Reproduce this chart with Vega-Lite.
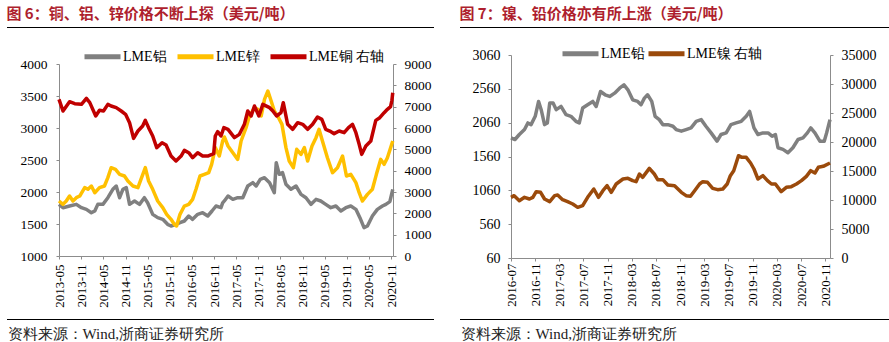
{
  "$schema": "https://vega.github.io/schema/vega-lite/v6.json",
  "background": "white",
  "padding": {"left": 6, "top": 6, "right": 0, "bottom": 0},
  "autosize": {"type": "pad"},
  "columns": 2,
  "align": "none",
  "spacing": {"row": 0, "column": 24},
  "resolve": {"scale": {"color": "independent", "x": "independent", "y": "independent"}, "legend": {"color": "independent"}},
  "datasets": {
    "rules": [{"x1": 0, "x2": 1, "pos": 0}, {"x1": 0, "x2": 1, "pos": 1}],
    "alzn": [
      {"date": "2013-05-01", "series": "LME铝", "price": 1807},
      {"date": "2013-06-03", "series": "LME铝", "price": 1755},
      {"date": "2013-07-27", "series": "LME铝", "price": 1781},
      {"date": "2013-09-21", "series": "LME铝", "price": 1807},
      {"date": "2013-11-02", "series": "LME铝", "price": 1755},
      {"date": "2013-12-13", "series": "LME铝", "price": 1729},
      {"date": "2014-01-23", "series": "LME铝", "price": 1677},
      {"date": "2014-02-20", "series": "LME铝", "price": 1703},
      {"date": "2014-03-17", "series": "LME铝", "price": 1807},
      {"date": "2014-04-28", "series": "LME铝", "price": 1807},
      {"date": "2014-06-08", "series": "LME铝", "price": 1911},
      {"date": "2014-07-19", "series": "LME铝", "price": 2042},
      {"date": "2014-08-16", "series": "LME铝", "price": 2094},
      {"date": "2014-09-13", "series": "LME铝", "price": 1911},
      {"date": "2014-10-10", "series": "LME铝", "price": 2042},
      {"date": "2014-11-07", "series": "LME铝", "price": 2068},
      {"date": "2014-12-04", "series": "LME铝", "price": 1807},
      {"date": "2015-01-14", "series": "LME铝", "price": 1859},
      {"date": "2015-02-24", "series": "LME铝", "price": 1807},
      {"date": "2015-04-05", "series": "LME铝", "price": 1911},
      {"date": "2015-05-02", "series": "LME铝", "price": 1833},
      {"date": "2015-06-13", "series": "LME铝", "price": 1651},
      {"date": "2015-07-24", "series": "LME铝", "price": 1599},
      {"date": "2015-09-04", "series": "LME铝", "price": 1573},
      {"date": "2015-10-14", "series": "LME铝", "price": 1495},
      {"date": "2015-11-11", "series": "LME铝", "price": 1469},
      {"date": "2015-12-22", "series": "LME铝", "price": 1495},
      {"date": "2016-01-24", "series": "LME铝", "price": 1521},
      {"date": "2016-02-29", "series": "LME铝", "price": 1547},
      {"date": "2016-04-05", "series": "LME铝", "price": 1625},
      {"date": "2016-05-07", "series": "LME铝", "price": 1573},
      {"date": "2016-06-18", "series": "LME铝", "price": 1651},
      {"date": "2016-07-29", "series": "LME铝", "price": 1677},
      {"date": "2016-09-09", "series": "LME铝", "price": 1625},
      {"date": "2016-10-14", "series": "LME铝", "price": 1703},
      {"date": "2016-11-16", "series": "LME铝", "price": 1781},
      {"date": "2016-12-27", "series": "LME铝", "price": 1755},
      {"date": "2017-01-10", "series": "LME铝", "price": 1830},
      {"date": "2017-01-24", "series": "LME铝", "price": 1860},
      {"date": "2017-02-23", "series": "LME铝", "price": 1937},
      {"date": "2017-04-04", "series": "LME铝", "price": 1885},
      {"date": "2017-05-14", "series": "LME铝", "price": 1911},
      {"date": "2017-06-25", "series": "LME铝", "price": 1911},
      {"date": "2017-08-05", "series": "LME铝", "price": 2094},
      {"date": "2017-09-16", "series": "LME铝", "price": 2146},
      {"date": "2017-10-13", "series": "LME铝", "price": 2094},
      {"date": "2017-11-16", "series": "LME铝", "price": 2198},
      {"date": "2017-12-21", "series": "LME铝", "price": 2224},
      {"date": "2018-02-01", "series": "LME铝", "price": 2146},
      {"date": "2018-03-12", "series": "LME铝", "price": 1989},
      {"date": "2018-03-28", "series": "LME铝", "price": 2458},
      {"date": "2018-04-22", "series": "LME铝", "price": 2276},
      {"date": "2018-05-19", "series": "LME铝", "price": 2302},
      {"date": "2018-06-16", "series": "LME铝", "price": 2120},
      {"date": "2018-07-27", "series": "LME铝", "price": 2042},
      {"date": "2018-09-07", "series": "LME铝", "price": 2094},
      {"date": "2018-10-18", "series": "LME铝", "price": 1963},
      {"date": "2018-11-28", "series": "LME铝", "price": 1911},
      {"date": "2019-01-09", "series": "LME铝", "price": 1807},
      {"date": "2019-02-19", "series": "LME铝", "price": 1885},
      {"date": "2019-03-30", "series": "LME铝", "price": 1859},
      {"date": "2019-05-10", "series": "LME铝", "price": 1807},
      {"date": "2019-06-21", "series": "LME铝", "price": 1755},
      {"date": "2019-08-02", "series": "LME铝", "price": 1781},
      {"date": "2019-09-12", "series": "LME铝", "price": 1703},
      {"date": "2019-10-23", "series": "LME铝", "price": 1755},
      {"date": "2019-12-03", "series": "LME铝", "price": 1781},
      {"date": "2020-01-14", "series": "LME铝", "price": 1729},
      {"date": "2020-02-16", "series": "LME铝", "price": 1599},
      {"date": "2020-03-21", "series": "LME铝", "price": 1443},
      {"date": "2020-04-18", "series": "LME铝", "price": 1469},
      {"date": "2020-05-29", "series": "LME铝", "price": 1625},
      {"date": "2020-07-09", "series": "LME铝", "price": 1729},
      {"date": "2020-08-20", "series": "LME铝", "price": 1781},
      {"date": "2020-09-17", "series": "LME铝", "price": 1807},
      {"date": "2020-10-20", "series": "LME铝", "price": 1850},
      {"date": "2020-11-13", "series": "LME铝", "price": 2042},
      {"date": "2013-05-01", "series": "LME锌", "price": 1859},
      {"date": "2013-06-03", "series": "LME锌", "price": 1807},
      {"date": "2013-06-30", "series": "LME锌", "price": 1859},
      {"date": "2013-07-27", "series": "LME锌", "price": 1937},
      {"date": "2013-08-24", "series": "LME锌", "price": 1859},
      {"date": "2013-09-21", "series": "LME锌", "price": 1911},
      {"date": "2013-10-19", "series": "LME锌", "price": 1937},
      {"date": "2013-11-29", "series": "LME锌", "price": 2068},
      {"date": "2013-12-26", "series": "LME锌", "price": 2042},
      {"date": "2014-01-23", "series": "LME锌", "price": 2094},
      {"date": "2014-02-20", "series": "LME锌", "price": 1989},
      {"date": "2014-03-31", "series": "LME锌", "price": 2068},
      {"date": "2014-05-11", "series": "LME锌", "price": 2094},
      {"date": "2014-06-08", "series": "LME锌", "price": 2224},
      {"date": "2014-07-05", "series": "LME锌", "price": 2380},
      {"date": "2014-08-10", "series": "LME锌", "price": 2354},
      {"date": "2014-09-13", "series": "LME锌", "price": 2276},
      {"date": "2014-10-23", "series": "LME锌", "price": 2250},
      {"date": "2014-11-20", "series": "LME锌", "price": 2172},
      {"date": "2015-01-01", "series": "LME锌", "price": 2094},
      {"date": "2015-02-11", "series": "LME锌", "price": 2068},
      {"date": "2015-03-08", "series": "LME锌", "price": 2198},
      {"date": "2015-04-13", "series": "LME锌", "price": 2380},
      {"date": "2015-05-10", "series": "LME锌", "price": 2172},
      {"date": "2015-06-13", "series": "LME锌", "price": 2042},
      {"date": "2015-07-24", "series": "LME锌", "price": 1859},
      {"date": "2015-09-04", "series": "LME锌", "price": 1755},
      {"date": "2015-10-06", "series": "LME锌", "price": 1651},
      {"date": "2015-11-11", "series": "LME锌", "price": 1573},
      {"date": "2015-12-08", "series": "LME锌", "price": 1495},
      {"date": "2015-12-27", "series": "LME锌", "price": 1469},
      {"date": "2016-01-24", "series": "LME锌", "price": 1651},
      {"date": "2016-02-29", "series": "LME锌", "price": 1781},
      {"date": "2016-04-05", "series": "LME锌", "price": 1807},
      {"date": "2016-05-07", "series": "LME锌", "price": 1885},
      {"date": "2016-06-04", "series": "LME锌", "price": 2042},
      {"date": "2016-07-07", "series": "LME锌", "price": 2250},
      {"date": "2016-08-12", "series": "LME锌", "price": 2276},
      {"date": "2016-09-17", "series": "LME锌", "price": 2302},
      {"date": "2016-10-11", "series": "LME锌", "price": 2432},
      {"date": "2016-11-11", "series": "LME锌", "price": 2693},
      {"date": "2016-12-13", "series": "LME锌", "price": 2562},
      {"date": "2017-01-10", "series": "LME锌", "price": 2797},
      {"date": "2017-01-24", "series": "LME锌", "price": 2860},
      {"date": "2017-02-23", "series": "LME锌", "price": 2719},
      {"date": "2017-04-04", "series": "LME锌", "price": 2614},
      {"date": "2017-05-14", "series": "LME锌", "price": 2510},
      {"date": "2017-06-11", "series": "LME锌", "price": 2797},
      {"date": "2017-07-22", "series": "LME锌", "price": 3005},
      {"date": "2017-08-19", "series": "LME锌", "price": 3187},
      {"date": "2017-09-29", "series": "LME锌", "price": 3317},
      {"date": "2017-10-27", "series": "LME锌", "price": 3291},
      {"date": "2017-11-24", "series": "LME锌", "price": 3187},
      {"date": "2017-12-21", "series": "LME锌", "price": 3448},
      {"date": "2018-01-18", "series": "LME锌", "price": 3578},
      {"date": "2018-02-14", "series": "LME锌", "price": 3422},
      {"date": "2018-03-12", "series": "LME锌", "price": 3265},
      {"date": "2018-04-16", "series": "LME锌", "price": 3161},
      {"date": "2018-05-14", "series": "LME锌", "price": 3057},
      {"date": "2018-06-16", "series": "LME锌", "price": 2693},
      {"date": "2018-07-13", "series": "LME锌", "price": 2484},
      {"date": "2018-08-16", "series": "LME锌", "price": 2380},
      {"date": "2018-09-13", "series": "LME锌", "price": 2667},
      {"date": "2018-10-18", "series": "LME锌", "price": 2588},
      {"date": "2018-11-15", "series": "LME锌", "price": 2693},
      {"date": "2018-12-12", "series": "LME锌", "price": 2484},
      {"date": "2019-01-17", "series": "LME锌", "price": 2719},
      {"date": "2019-02-19", "series": "LME锌", "price": 2849},
      {"date": "2019-03-16", "series": "LME锌", "price": 2979},
      {"date": "2019-04-13", "series": "LME锌", "price": 2797},
      {"date": "2019-05-24", "series": "LME锌", "price": 2536},
      {"date": "2019-07-05", "series": "LME锌", "price": 2302},
      {"date": "2019-08-15", "series": "LME锌", "price": 2380},
      {"date": "2019-09-26", "series": "LME锌", "price": 2562},
      {"date": "2019-10-28", "series": "LME锌", "price": 2250},
      {"date": "2019-12-03", "series": "LME锌", "price": 2276},
      {"date": "2020-01-14", "series": "LME锌", "price": 2146},
      {"date": "2020-02-10", "series": "LME锌", "price": 1989},
      {"date": "2020-03-08", "series": "LME锌", "price": 1859},
      {"date": "2020-04-18", "series": "LME锌", "price": 1963},
      {"date": "2020-05-29", "series": "LME锌", "price": 2042},
      {"date": "2020-07-01", "series": "LME锌", "price": 2276},
      {"date": "2020-08-06", "series": "LME锌", "price": 2510},
      {"date": "2020-09-03", "series": "LME锌", "price": 2432},
      {"date": "2020-09-30", "series": "LME锌", "price": 2536},
      {"date": "2020-11-13", "series": "LME锌", "price": 2797}
    ],
    "cu": [
      {"date": "2013-05-01", "series": "LME铜 右轴", "price": 7344},
      {"date": "2013-06-03", "series": "LME铜 右轴", "price": 6797},
      {"date": "2013-07-27", "series": "LME铜 右轴", "price": 7234},
      {"date": "2013-09-08", "series": "LME铜 右轴", "price": 7140},
      {"date": "2013-11-02", "series": "LME铜 右轴", "price": 7109},
      {"date": "2013-12-13", "series": "LME铜 右轴", "price": 7390},
      {"date": "2014-01-10", "series": "LME铜 右轴", "price": 7190},
      {"date": "2014-02-28", "series": "LME铜 右轴", "price": 6562},
      {"date": "2014-03-31", "series": "LME铜 右轴", "price": 6828},
      {"date": "2014-05-03", "series": "LME铜 右轴", "price": 6797},
      {"date": "2014-06-08", "series": "LME铜 右轴", "price": 7109},
      {"date": "2014-07-05", "series": "LME铜 右轴", "price": 7031},
      {"date": "2014-08-16", "series": "LME铜 右轴", "price": 6953},
      {"date": "2014-09-26", "series": "LME铜 右轴", "price": 6797},
      {"date": "2014-11-01", "series": "LME铜 右轴", "price": 6640},
      {"date": "2014-12-04", "series": "LME铜 右轴", "price": 6250},
      {"date": "2015-01-06", "series": "LME铜 右轴", "price": 5515},
      {"date": "2015-02-11", "series": "LME铜 右轴", "price": 5859},
      {"date": "2015-03-22", "series": "LME铜 右轴", "price": 6094},
      {"date": "2015-04-13", "series": "LME铜 右轴", "price": 6359},
      {"date": "2015-05-10", "series": "LME铜 右轴", "price": 6016},
      {"date": "2015-06-13", "series": "LME铜 右轴", "price": 5625},
      {"date": "2015-07-16", "series": "LME铜 右轴", "price": 5078},
      {"date": "2015-08-29", "series": "LME铜 右轴", "price": 5312},
      {"date": "2015-10-01", "series": "LME铜 右轴", "price": 5203},
      {"date": "2015-11-11", "series": "LME铜 右轴", "price": 4687},
      {"date": "2015-12-22", "series": "LME铜 右轴", "price": 4453},
      {"date": "2016-02-02", "series": "LME铜 右轴", "price": 4687},
      {"date": "2016-02-29", "series": "LME铜 右轴", "price": 4953},
      {"date": "2016-04-05", "series": "LME铜 右轴", "price": 4843},
      {"date": "2016-05-07", "series": "LME铜 右轴", "price": 4609},
      {"date": "2016-06-18", "series": "LME铜 右轴", "price": 4843},
      {"date": "2016-07-29", "series": "LME铜 右轴", "price": 4687},
      {"date": "2016-09-09", "series": "LME铜 右轴", "price": 4687},
      {"date": "2016-10-28", "series": "LME铜 右轴", "price": 4800},
      {"date": "2016-11-10", "series": "LME铜 右轴", "price": 5625},
      {"date": "2016-11-30", "series": "LME铜 右轴", "price": 5828},
      {"date": "2016-12-27", "series": "LME铜 右轴", "price": 5625},
      {"date": "2017-01-20", "series": "LME铜 右轴", "price": 6016},
      {"date": "2017-02-23", "series": "LME铜 右轴", "price": 5937},
      {"date": "2017-04-17", "series": "LME铜 右轴", "price": 5547},
      {"date": "2017-05-28", "series": "LME铜 右轴", "price": 5703},
      {"date": "2017-07-08", "series": "LME铜 右轴", "price": 6172},
      {"date": "2017-08-05", "series": "LME铜 右轴", "price": 6797},
      {"date": "2017-09-02", "series": "LME铜 右轴", "price": 6562},
      {"date": "2017-09-29", "series": "LME铜 右轴", "price": 7031},
      {"date": "2017-11-05", "series": "LME铜 右轴", "price": 6562},
      {"date": "2017-12-07", "series": "LME铜 右轴", "price": 7109},
      {"date": "2018-02-01", "series": "LME铜 右轴", "price": 6953},
      {"date": "2018-02-28", "series": "LME铜 右轴", "price": 6797},
      {"date": "2018-03-31", "series": "LME铜 右轴", "price": 6562},
      {"date": "2018-05-06", "series": "LME铜 右轴", "price": 6719},
      {"date": "2018-05-25", "series": "LME铜 右轴", "price": 7187},
      {"date": "2018-06-30", "series": "LME铜 右轴", "price": 6172},
      {"date": "2018-08-10", "series": "LME铜 右轴", "price": 5937},
      {"date": "2018-09-21", "series": "LME铜 右轴", "price": 6250},
      {"date": "2018-11-01", "series": "LME铜 右轴", "price": 6172},
      {"date": "2018-12-12", "series": "LME铜 右轴", "price": 5937},
      {"date": "2019-01-22", "series": "LME铜 右轴", "price": 6172},
      {"date": "2019-03-03", "series": "LME铜 右轴", "price": 6516},
      {"date": "2019-04-08", "series": "LME铜 右轴", "price": 6406},
      {"date": "2019-05-10", "series": "LME铜 右轴", "price": 5937},
      {"date": "2019-06-13", "series": "LME铜 右轴", "price": 5859},
      {"date": "2019-07-18", "series": "LME铜 右轴", "price": 5734},
      {"date": "2019-08-29", "series": "LME铜 右轴", "price": 5859},
      {"date": "2019-10-09", "series": "LME铜 右轴", "price": 5781},
      {"date": "2019-11-14", "series": "LME铜 右轴", "price": 6016},
      {"date": "2019-12-17", "series": "LME铜 右轴", "price": 6172},
      {"date": "2020-01-14", "series": "LME铜 右轴", "price": 5781},
      {"date": "2020-02-10", "series": "LME铜 右轴", "price": 5234},
      {"date": "2020-03-02", "series": "LME铜 右轴", "price": 4765},
      {"date": "2020-04-05", "series": "LME铜 右轴", "price": 5156},
      {"date": "2020-05-16", "series": "LME铜 右轴", "price": 5390},
      {"date": "2020-06-26", "series": "LME铜 右轴", "price": 6359},
      {"date": "2020-07-29", "series": "LME铜 右轴", "price": 6484},
      {"date": "2020-09-03", "series": "LME铜 右轴", "price": 6719},
      {"date": "2020-09-30", "series": "LME铜 右轴", "price": 6875},
      {"date": "2020-10-26", "series": "LME铜 右轴", "price": 7000},
      {"date": "2020-11-06", "series": "LME铜 右轴", "price": 7300},
      {"date": "2020-11-13", "series": "LME铜 右轴", "price": 7650}
    ],
    "pb": [
      {"date": "2016-07-01", "series": "LME铅", "price": 1836},
      {"date": "2016-07-21", "series": "LME铅", "price": 1811},
      {"date": "2016-08-12", "series": "LME铅", "price": 1885},
      {"date": "2016-09-07", "series": "LME铅", "price": 1958},
      {"date": "2016-09-24", "series": "LME铅", "price": 2056},
      {"date": "2016-10-10", "series": "LME铅", "price": 2031},
      {"date": "2016-10-31", "series": "LME铅", "price": 2154},
      {"date": "2016-11-17", "series": "LME铅", "price": 2374},
      {"date": "2016-11-30", "series": "LME铅", "price": 2252},
      {"date": "2016-12-17", "series": "LME铅", "price": 2031},
      {"date": "2016-12-31", "series": "LME铅", "price": 2056},
      {"date": "2017-01-12", "series": "LME铅", "price": 2349},
      {"date": "2017-01-29", "series": "LME铅", "price": 2349},
      {"date": "2017-02-14", "series": "LME铅", "price": 2252},
      {"date": "2017-03-10", "series": "LME铅", "price": 2300},
      {"date": "2017-04-04", "series": "LME铅", "price": 2178},
      {"date": "2017-04-29", "series": "LME铅", "price": 2154},
      {"date": "2017-05-24", "series": "LME铅", "price": 2080},
      {"date": "2017-06-10", "series": "LME铅", "price": 2056},
      {"date": "2017-06-27", "series": "LME铅", "price": 2276},
      {"date": "2017-07-22", "series": "LME铅", "price": 2325},
      {"date": "2017-08-17", "series": "LME铅", "price": 2374},
      {"date": "2017-09-03", "series": "LME铅", "price": 2300},
      {"date": "2017-09-25", "series": "LME铅", "price": 2521},
      {"date": "2017-10-18", "series": "LME铅", "price": 2472},
      {"date": "2017-11-10", "series": "LME铅", "price": 2447},
      {"date": "2017-12-05", "series": "LME铅", "price": 2496},
      {"date": "2017-12-30", "series": "LME铅", "price": 2570},
      {"date": "2018-01-21", "series": "LME铅", "price": 2619},
      {"date": "2018-02-10", "series": "LME铅", "price": 2545},
      {"date": "2018-03-06", "series": "LME铅", "price": 2398},
      {"date": "2018-03-31", "series": "LME铅", "price": 2374},
      {"date": "2018-04-17", "series": "LME铅", "price": 2325},
      {"date": "2018-05-04", "series": "LME铅", "price": 2423},
      {"date": "2018-05-20", "series": "LME铅", "price": 2472},
      {"date": "2018-06-10", "series": "LME铅", "price": 2374},
      {"date": "2018-06-27", "series": "LME铅", "price": 2154},
      {"date": "2018-07-18", "series": "LME铅", "price": 2105},
      {"date": "2018-08-05", "series": "LME铅", "price": 2031},
      {"date": "2018-08-30", "series": "LME铅", "price": 2031},
      {"date": "2018-09-25", "series": "LME铅", "price": 2007},
      {"date": "2018-10-11", "series": "LME铅", "price": 1958},
      {"date": "2018-11-06", "series": "LME铅", "price": 1934},
      {"date": "2018-11-30", "series": "LME铅", "price": 1958},
      {"date": "2018-12-25", "series": "LME铅", "price": 1983},
      {"date": "2019-01-20", "series": "LME铅", "price": 2080},
      {"date": "2019-02-14", "series": "LME铅", "price": 2105},
      {"date": "2019-03-10", "series": "LME铅", "price": 2007},
      {"date": "2019-04-05", "series": "LME铅", "price": 1909},
      {"date": "2019-05-05", "series": "LME铅", "price": 1787},
      {"date": "2019-05-25", "series": "LME铅", "price": 1885},
      {"date": "2019-06-20", "series": "LME铅", "price": 1909},
      {"date": "2019-07-14", "series": "LME铅", "price": 2031},
      {"date": "2019-08-09", "series": "LME铅", "price": 2056},
      {"date": "2019-09-04", "series": "LME铅", "price": 2080},
      {"date": "2019-09-29", "series": "LME铅", "price": 2154},
      {"date": "2019-10-16", "series": "LME铅", "price": 2227},
      {"date": "2019-11-07", "series": "LME铅", "price": 1983},
      {"date": "2019-11-27", "series": "LME铅", "price": 1885},
      {"date": "2019-12-22", "series": "LME铅", "price": 1909},
      {"date": "2020-01-17", "series": "LME铅", "price": 1909},
      {"date": "2020-02-06", "series": "LME铅", "price": 1860},
      {"date": "2020-02-23", "series": "LME铅", "price": 1885},
      {"date": "2020-03-07", "series": "LME铅", "price": 1689},
      {"date": "2020-04-01", "series": "LME铅", "price": 1665},
      {"date": "2020-04-26", "series": "LME铅", "price": 1616},
      {"date": "2020-05-21", "series": "LME铅", "price": 1689},
      {"date": "2020-06-16", "series": "LME铅", "price": 1811},
      {"date": "2020-07-11", "series": "LME铅", "price": 1836},
      {"date": "2020-08-02", "series": "LME铅", "price": 1909},
      {"date": "2020-08-19", "series": "LME铅", "price": 1983},
      {"date": "2020-09-09", "series": "LME铅", "price": 1909},
      {"date": "2020-10-04", "series": "LME铅", "price": 1787},
      {"date": "2020-10-26", "series": "LME铅", "price": 1787},
      {"date": "2020-11-07", "series": "LME铅", "price": 1909},
      {"date": "2020-11-24", "series": "LME铅", "price": 2105}
    ],
    "ni": [
      {"date": "2016-07-01", "series": "LME镍 右轴", "price": 10460},
      {"date": "2016-07-17", "series": "LME镍 右轴", "price": 10747},
      {"date": "2016-08-12", "series": "LME镍 右轴", "price": 9885},
      {"date": "2016-09-07", "series": "LME镍 右轴", "price": 10460},
      {"date": "2016-10-02", "series": "LME镍 右轴", "price": 10172},
      {"date": "2016-10-19", "series": "LME镍 右轴", "price": 10460},
      {"date": "2016-11-05", "series": "LME镍 右轴", "price": 11437},
      {"date": "2016-11-27", "series": "LME镍 右轴", "price": 11321},
      {"date": "2016-12-17", "series": "LME镍 右轴", "price": 10172},
      {"date": "2017-01-12", "series": "LME镍 右轴", "price": 9712},
      {"date": "2017-02-06", "series": "LME镍 右轴", "price": 10747},
      {"date": "2017-02-21", "series": "LME镍 右轴", "price": 10862},
      {"date": "2017-03-18", "series": "LME镍 右轴", "price": 10057},
      {"date": "2017-04-12", "series": "LME镍 右轴", "price": 9712},
      {"date": "2017-05-08", "series": "LME镍 右轴", "price": 9310},
      {"date": "2017-06-02", "series": "LME镍 右轴", "price": 8735},
      {"date": "2017-06-27", "series": "LME镍 右轴", "price": 9023},
      {"date": "2017-07-22", "series": "LME镍 右轴", "price": 10460},
      {"date": "2017-08-22", "series": "LME镍 右轴", "price": 11896},
      {"date": "2017-09-15", "series": "LME镍 右轴", "price": 10460},
      {"date": "2017-10-07", "series": "LME镍 右轴", "price": 11609},
      {"date": "2017-10-28", "series": "LME镍 右轴", "price": 12471},
      {"date": "2017-11-18", "series": "LME镍 右轴", "price": 11321},
      {"date": "2017-12-13", "series": "LME镍 右轴", "price": 12758},
      {"date": "2018-01-16", "series": "LME镍 右轴", "price": 13620},
      {"date": "2018-02-10", "series": "LME镍 右轴", "price": 13735},
      {"date": "2018-03-06", "series": "LME镍 右轴", "price": 13333},
      {"date": "2018-03-23", "series": "LME镍 右轴", "price": 13160},
      {"date": "2018-04-09", "series": "LME镍 右轴", "price": 14482},
      {"date": "2018-04-25", "series": "LME镍 右轴", "price": 13907},
      {"date": "2018-05-29", "series": "LME镍 右轴", "price": 15459},
      {"date": "2018-06-23", "series": "LME镍 右轴", "price": 14482},
      {"date": "2018-07-10", "series": "LME镍 右轴", "price": 13505},
      {"date": "2018-08-05", "series": "LME镍 右轴", "price": 13505},
      {"date": "2018-08-30", "series": "LME镍 右轴", "price": 12586},
      {"date": "2018-10-03", "series": "LME镍 右轴", "price": 12471},
      {"date": "2018-11-06", "series": "LME镍 右轴", "price": 11321},
      {"date": "2018-11-30", "series": "LME镍 右轴", "price": 10747},
      {"date": "2018-12-22", "series": "LME镍 右轴", "price": 10632},
      {"date": "2019-01-12", "series": "LME镍 右轴", "price": 11609},
      {"date": "2019-02-06", "series": "LME镍 右轴", "price": 12758},
      {"date": "2019-02-22", "series": "LME镍 右轴", "price": 13160},
      {"date": "2019-03-18", "series": "LME镍 右轴", "price": 13045},
      {"date": "2019-04-13", "series": "LME镍 右轴", "price": 12011},
      {"date": "2019-05-08", "series": "LME镍 右轴", "price": 11781},
      {"date": "2019-06-03", "series": "LME镍 右轴", "price": 11896},
      {"date": "2019-06-25", "series": "LME镍 右轴", "price": 12758},
      {"date": "2019-07-11", "series": "LME镍 右轴", "price": 14195},
      {"date": "2019-07-28", "series": "LME镍 右轴", "price": 15057},
      {"date": "2019-08-21", "series": "LME镍 右轴", "price": 17643},
      {"date": "2019-09-07", "series": "LME镍 右轴", "price": 17356},
      {"date": "2019-09-29", "series": "LME镍 右轴", "price": 17356},
      {"date": "2019-10-21", "series": "LME镍 右轴", "price": 16378},
      {"date": "2019-11-07", "series": "LME镍 右轴", "price": 15344},
      {"date": "2019-11-27", "series": "LME镍 右轴", "price": 13620},
      {"date": "2019-12-22", "series": "LME镍 右轴", "price": 14195},
      {"date": "2020-01-14", "series": "LME镍 右轴", "price": 13333},
      {"date": "2020-02-03", "series": "LME镍 右轴", "price": 12758},
      {"date": "2020-02-23", "series": "LME镍 右轴", "price": 12758},
      {"date": "2020-03-23", "series": "LME镍 右轴", "price": 11437},
      {"date": "2020-04-18", "series": "LME镍 右轴", "price": 12184},
      {"date": "2020-05-13", "series": "LME镍 右轴", "price": 12298},
      {"date": "2020-06-08", "series": "LME镍 右轴", "price": 12758},
      {"date": "2020-07-03", "series": "LME镍 右轴", "price": 13333},
      {"date": "2020-07-28", "series": "LME镍 右轴", "price": 14080},
      {"date": "2020-08-19", "series": "LME镍 右轴", "price": 15057},
      {"date": "2020-09-09", "series": "LME镍 右轴", "price": 14655},
      {"date": "2020-09-26", "series": "LME镍 右轴", "price": 15632},
      {"date": "2020-10-21", "series": "LME镍 右轴", "price": 15804},
      {"date": "2020-11-24", "series": "LME镍 右轴", "price": 16378}
    ]
  },
  "concat": [
    {
      "width": 334, "height": 192,
      "title": {"text": "图 6：铜、铝、锌价格不断上探（美元/吨）", "anchor": "start", "frame": "bounds", "offset": 5, "fontSize": 15, "fontWeight": "bold", "color": "#AE1F2E", "font": "Noto Sans CJK SC"},
      "layer": [
        {
          "data": {"name": "alzn"},
          "mark": {"type": "line", "strokeWidth": 3.5, "strokeJoin": "round"},
          "encoding": {
            "x": {"field": "date", "type": "temporal",
              "scale": {"type": "utc", "domain": [{"year": 2013, "month": 5, "date": 1, "utc": true}, {"year": 2020, "month": 11, "date": 15, "utc": true}]},
              "axis": {"title": "资料来源：Wind,浙商证券研究所", "titleX": -52, "titleY": 77, "titleAlign": "left", "titleBaseline": "middle", "titleAngle": 0, "titleFont": "Liberation Serif", "titleFontSize": 15, "titleFontWeight": "normal", "titleColor": "#222222",
                "format": "%Y-%m", "labelAngle": 270, "labelOverlap": false, "labelFlush": false, "tickSize": 3, "labelPadding": 5, "labelFontSize": 13,
                "values": [{"year": 2013, "month": 5, "date": 1, "utc": true}, {"year": 2013, "month": 11, "date": 1, "utc": true}, {"year": 2014, "month": 5, "date": 1, "utc": true}, {"year": 2014, "month": 11, "date": 1, "utc": true}, {"year": 2015, "month": 5, "date": 1, "utc": true}, {"year": 2015, "month": 11, "date": 1, "utc": true}, {"year": 2016, "month": 5, "date": 1, "utc": true}, {"year": 2016, "month": 11, "date": 1, "utc": true}, {"year": 2017, "month": 5, "date": 1, "utc": true}, {"year": 2017, "month": 11, "date": 1, "utc": true}, {"year": 2018, "month": 5, "date": 1, "utc": true}, {"year": 2018, "month": 11, "date": 1, "utc": true}, {"year": 2019, "month": 5, "date": 1, "utc": true}, {"year": 2019, "month": 11, "date": 1, "utc": true}, {"year": 2020, "month": 5, "date": 1, "utc": true}, {"year": 2020, "month": 11, "date": 1, "utc": true}]}},
            "y": {"field": "price", "type": "quantitative",
              "scale": {"domain": [1000, 4000], "nice": false, "zero": false},
              "axis": {"title": null, "orient": "left", "format": "d", "values": [1000, 1500, 2000, 2500, 3000, 3500, 4000], "tickSize": 3, "labelPadding": 9, "labelFontSize": 13.5, "minExtent": 52, "maxExtent": 52}},
            "color": {"field": "series", "type": "nominal",
              "scale": {"domain": ["LME铝", "LME锌", "LME铜 右轴"], "range": ["#808080", "#FFC000", "#C00000"]},
              "legend": {"orient": "none", "legendX": 23, "legendY": -28, "direction": "horizontal", "title": null, "symbolType": "stroke", "symbolSize": 1296, "symbolStrokeWidth": 5, "labelFont": "Liberation Serif", "labelFontSize": 14, "labelColor": "#000000", "labelOffset": 0, "columnPadding": 0, "padding": 0, "labelLimit": 200}}
          }
        },
        {
          "data": {"name": "cu"},
          "mark": {"type": "line", "strokeWidth": 3.5, "strokeJoin": "round"},
          "encoding": {
            "x": {"field": "date", "type": "temporal",
              "scale": {"type": "utc", "domain": [{"year": 2013, "month": 5, "date": 1, "utc": true}, {"year": 2020, "month": 11, "date": 15, "utc": true}]},
              "axis": null},
            "y": {"field": "price", "type": "quantitative",
              "scale": {"domain": [0, 9000], "nice": false},
              "axis": {"title": null, "orient": "right", "format": "d", "values": [0, 1000, 2000, 3000, 4000, 5000, 6000, 7000, 8000, 9000], "tickSize": 3, "labelPadding": 8, "labelFontSize": 13.5, "minExtent": 41, "maxExtent": 41}},
            "color": {"field": "series", "type": "nominal"}
          }
        },
        {
          "data": {"name": "rules"},
          "mark": {"type": "rule", "color": "#000000", "strokeWidth": 1.2},
          "encoding": {
            "x": {"field": "x1", "type": "quantitative", "scale": {"domain": [0, 1], "range": [-52, 375]}, "axis": null},
            "x2": {"field": "x2"},
            "y": {"field": "pos", "type": "quantitative", "scale": {"domain": [0, 1], "range": [-36.5, 255.5]}, "axis": null}
          }
        }
      ],
      "resolve": {"scale": {"x": "independent", "y": "independent"}}
    },
    {
      "width": 319, "height": 194,
      "title": {"text": "图 7：镍、铅价格亦有所上涨（美元/吨）", "anchor": "start", "frame": "bounds", "offset": 5, "fontSize": 15, "fontWeight": "bold", "color": "#AE1F2E", "font": "Noto Sans CJK SC"},
      "layer": [
        {
          "data": {"name": "pb"},
          "mark": {"type": "line", "strokeWidth": 3.5, "strokeJoin": "round"},
          "encoding": {
            "x": {"field": "date", "type": "temporal",
              "scale": {"type": "utc", "domain": [{"year": 2016, "month": 7, "date": 1, "utc": true}, {"year": 2020, "month": 11, "date": 24, "utc": true}]},
              "axis": {"title": "资料来源：Wind,浙商证券研究所", "titleX": -51, "titleY": 75, "titleAlign": "left", "titleBaseline": "middle", "titleAngle": 0, "titleFont": "Liberation Serif", "titleFontSize": 15, "titleFontWeight": "normal", "titleColor": "#222222",
                "format": "%Y-%m", "labelAngle": 270, "labelOverlap": false, "labelFlush": false, "tickSize": 3, "labelPadding": 2, "labelFontSize": 13,
                "values": [{"year": 2016, "month": 7, "date": 1, "utc": true}, {"year": 2016, "month": 11, "date": 1, "utc": true}, {"year": 2017, "month": 3, "date": 1, "utc": true}, {"year": 2017, "month": 7, "date": 1, "utc": true}, {"year": 2017, "month": 11, "date": 1, "utc": true}, {"year": 2018, "month": 3, "date": 1, "utc": true}, {"year": 2018, "month": 7, "date": 1, "utc": true}, {"year": 2018, "month": 11, "date": 1, "utc": true}, {"year": 2019, "month": 3, "date": 1, "utc": true}, {"year": 2019, "month": 7, "date": 1, "utc": true}, {"year": 2019, "month": 11, "date": 1, "utc": true}, {"year": 2020, "month": 3, "date": 1, "utc": true}, {"year": 2020, "month": 7, "date": 1, "utc": true}, {"year": 2020, "month": 11, "date": 1, "utc": true}]}},
            "y": {"field": "price", "type": "quantitative",
              "scale": {"domain": [60, 3060], "nice": false, "zero": false, "range": [194, -9]},
              "axis": {"title": null, "orient": "left", "format": "d", "values": [60, 560, 1060, 1560, 2060, 2560, 3060], "tickSize": 3, "labelPadding": 8, "labelFontSize": 14, "minExtent": 51, "maxExtent": 51}},
            "color": {"field": "series", "type": "nominal",
              "scale": {"domain": ["LME铅", "LME镍 右轴"], "range": ["#808080", "#9B4A0B"]},
              "legend": {"orient": "none", "legendX": 49, "legendY": -31, "direction": "horizontal", "title": null, "symbolType": "stroke", "symbolSize": 1296, "symbolStrokeWidth": 5, "labelFont": "Liberation Serif", "labelFontSize": 14, "labelColor": "#000000", "labelOffset": 0, "columnPadding": -7, "padding": 0, "labelLimit": 200}}
          }
        },
        {
          "data": {"name": "ni"},
          "mark": {"type": "line", "strokeWidth": 3.5, "strokeJoin": "round"},
          "encoding": {
            "x": {"field": "date", "type": "temporal",
              "scale": {"type": "utc", "domain": [{"year": 2016, "month": 7, "date": 1, "utc": true}, {"year": 2020, "month": 11, "date": 24, "utc": true}]},
              "axis": null},
            "y": {"field": "price", "type": "quantitative",
              "scale": {"domain": [0, 35000], "nice": false, "range": [194, -9]},
              "axis": {"title": null, "orient": "right", "format": "d", "values": [0, 5000, 10000, 15000, 20000, 25000, 30000, 35000], "tickSize": 3, "labelPadding": 8, "labelFontSize": 14}},
            "color": {"field": "series", "type": "nominal"}
          }
        },
        {
          "data": {"name": "rules"},
          "mark": {"type": "rule", "color": "#000000", "strokeWidth": 1.2},
          "encoding": {
            "x": {"field": "x1", "type": "quantitative", "scale": {"domain": [0, 1], "range": [-51, 381]}, "axis": null},
            "x2": {"field": "x2"},
            "y": {"field": "pos", "type": "quantitative", "scale": {"domain": [0, 1], "range": [-36.5, 255.5]}, "axis": null}
          }
        }
      ],
      "resolve": {"scale": {"x": "independent", "y": "independent"}}
    }
  ],
  "config": {
    "view": {"stroke": null},
    "axis": {"grid": false, "labelOverlap": false, "domainColor": "#8C8C8C", "tickColor": "#8C8C8C", "domainWidth": 1, "tickWidth": 1, "labelFont": "Liberation Serif", "labelColor": "#000000"}
  }
}
